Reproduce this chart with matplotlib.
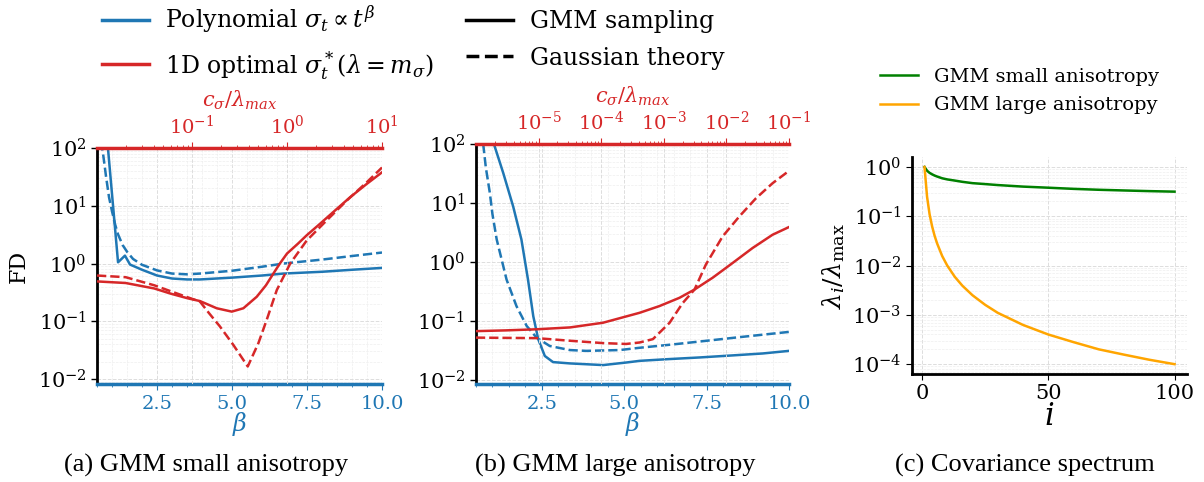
import matplotlib
matplotlib.use("Agg")
import matplotlib.pyplot as plt
from matplotlib.lines import Line2D
from matplotlib.ticker import MultipleLocator, LogLocator, NullFormatter

plt.rcParams['font.family'] = 'DejaVu Serif'
plt.rcParams['mathtext.fontset'] = 'dejavuserif'

BLUE = '#1f77b4'
RED = '#d62728'

# (a) small anisotropy -- polynomial schedule vs beta
beta_a_gmm = [0.85, 1.2, 1.43, 1.6, 2.0, 2.5, 3.0, 3.5, 3.93, 5.0, 6.0, 6.71, 8.0, 9.0, 10.0]
fd_a_poly_gmm = [120, 1.05, 1.37, 0.96, 0.78, 0.62, 0.55, 0.53, 0.53, 0.57, 0.62, 0.67, 0.72, 0.78, 0.84]
beta_a_th = [0.63, 0.7, 0.8, 0.9, 1.0, 1.1, 1.2, 1.35, 1.5, 1.7, 2.0, 2.5, 3.0, 3.5, 3.93, 5.0, 6.0, 6.71, 8.0, 9.0, 10.0]
fd_a_poly_th = [130, 80, 32, 14, 8, 4.8, 3.2, 2.1, 1.6, 1.2, 0.95, 0.76, 0.67, 0.65, 0.67, 0.75, 0.88, 1.0, 1.17, 1.35, 1.55]

# (a) 1D optimal schedule vs c_sigma / lambda_max
c_a_gmm = [0.01, 0.02, 0.04, 0.06, 0.09, 0.121, 0.182, 0.262, 0.347, 0.48, 0.6, 0.718, 0.84, 1.0,
           1.3, 1.61, 2.2, 3.07, 4.6, 6.9, 10]
fd_a_opt_gmm = [0.49, 0.46, 0.37, 0.30, 0.25, 0.224, 0.168, 0.147, 0.168, 0.266, 0.42, 0.67, 1.0, 1.49,
                2.2, 3.08, 4.8, 7.8, 14, 23.9, 38]
c_a_th = [0.01, 0.02, 0.04, 0.06, 0.09, 0.121, 0.15, 0.197, 0.272, 0.386, 0.5, 0.61, 0.78, 1.08,
          1.61, 2.62, 4.25, 6.9, 10]
fd_a_opt_th = [0.62, 0.58, 0.42, 0.33, 0.26, 0.22, 0.14, 0.081, 0.039, 0.0165, 0.042, 0.105, 0.347, 1.0,
               2.5, 5.6, 12.3, 25.5, 46]

# (b) large anisotropy -- polynomial schedule vs beta
beta_b_gmm = [1.045, 1.33, 1.63, 1.88, 2.08, 2.24, 2.39, 2.59, 2.84, 3.35, 4.36, 5.07, 5.47, 6.3, 7.3, 8.3, 9.2, 10.0]
fd_b_poly_gmm = [100, 32, 8.7, 2.4, 0.50, 0.12, 0.049, 0.0254, 0.020, 0.019, 0.0178, 0.0197, 0.021,
                 0.0224, 0.024, 0.026, 0.028, 0.031]
beta_b_th = [0.72, 0.8, 0.92, 1.0, 1.13, 1.43, 1.73, 2.04, 2.34, 2.74, 3.35, 3.85, 4.86, 5.47, 6.5, 7.5, 8.5, 10.0]
fd_b_poly_th = [100, 40, 15, 6.5, 2.4, 0.50, 0.178, 0.082, 0.052, 0.0375, 0.032, 0.031, 0.032, 0.035,
                0.040, 0.046, 0.053, 0.065]

# (b) 1D optimal schedule vs c_sigma / lambda_max
c_b_gmm = [1e-6, 3e-6, 9.3e-6, 3.2e-5, 1.07e-4, 4.1e-4, 8.5e-4, 1.78e-3, 3.1e-3, 6.05e-3, 1.26e-2,
           2.62e-2, 5.47e-2, 0.1]
fd_b_opt_gmm = [0.067, 0.069, 0.072, 0.0775, 0.093, 0.137, 0.178, 0.246, 0.34, 0.54, 0.96,
                1.72, 2.89, 3.9]
c_b_th = [1e-6, 9.3e-6, 3.2e-5, 1.07e-4, 2.5e-4, 4.1e-4, 6.7e-4, 1.24e-3, 2.0e-3, 3.1e-3, 4.7e-3,
          8.7e-3, 1.61e-2, 2.97e-2, 5.47e-2, 0.1]
fd_b_opt_th = [0.052, 0.051, 0.046, 0.042, 0.0406, 0.043, 0.049, 0.093, 0.20, 0.34, 0.90,
               2.7, 5.9, 12, 21.6, 35]

# (c) covariance spectra
idx = [1, 2, 3, 4, 5, 6, 8, 10, 13, 16, 20, 25, 30, 40, 50, 60, 70, 80, 90, 100]
eig_small = [1.0, 0.84, 0.76, 0.71, 0.67, 0.64, 0.59, 0.56, 0.53, 0.50, 0.47, 0.45, 0.43, 0.40, 0.38,
             0.36, 0.345, 0.334, 0.324, 0.316]
eig_large = [1.0, 0.25, 0.11, 0.0625, 0.04, 0.028, 0.0156, 0.01, 0.0059, 0.0039, 0.0025, 0.0016,
             0.0011, 0.000625, 0.0004, 0.00028, 0.0002, 0.000156, 0.000123, 0.0001]

LW = 1.8
GRID = dict(color='#dddddd', linestyle='--', linewidth=0.7)
GRID_MINOR = dict(color='#eeeeee', linestyle='--', linewidth=0.5)

fig = plt.figure(figsize=(12.04, 4.82), dpi=100)


def fd_panel(rect, ylim, ctop, cticks, b_gmm, y_gmm, b_th, y_th, c_gmm, o_gmm, c_th, o_th, ylabel):
    ax = fig.add_axes(rect)
    ax.set_yscale('log')
    ax.set_xlim(0.5, 10)
    ax.set_ylim(*ylim)
    ax.plot(b_gmm, y_gmm, color=BLUE, lw=LW)
    ax.plot(b_th, y_th, color=BLUE, lw=LW, ls='--')
    ax.set_xticks([2.5, 5.0, 7.5, 10.0])
    ax.xaxis.set_minor_locator(MultipleLocator(0.5))
    ax.yaxis.set_major_locator(LogLocator(base=10, numticks=10))
    ax.yaxis.set_minor_locator(LogLocator(base=10, subs=range(2, 10), numticks=10))
    ax.yaxis.set_minor_formatter(NullFormatter())
    ax.tick_params(axis='x', which='both', colors=BLUE, labelsize=14, pad=4)
    ax.tick_params(axis='x', which='major', length=4)
    ax.tick_params(axis='x', which='minor', length=2.5)
    ax.tick_params(axis='y', which='major', labelsize=15, length=4, width=1)
    ax.tick_params(axis='y', which='minor', length=0)
    ax.set_xlabel(r'$\beta$', color=BLUE, fontsize=17, labelpad=-2)
    if ylabel:
        ax.set_ylabel('FD', fontsize=16, labelpad=6)
    ax.grid(True, which='major', **GRID)
    ax.grid(True, which='minor', **GRID_MINOR)
    for s in ('top', 'right'):
        ax.spines[s].set_visible(False)
    ax.spines['bottom'].set_color(BLUE)
    ax.spines['bottom'].set_linewidth(2.5)
    ax.spines['left'].set_linewidth(2)

    axt = ax.twiny()
    axt.set_xscale('log')
    axt.set_xlim(*ctop)
    axt.plot(c_gmm, o_gmm, color=RED, lw=LW)
    axt.plot(c_th, o_th, color=RED, lw=LW, ls='--')
    axt.set_xticks(cticks)
    axt.tick_params(axis='x', which='both', colors=RED, labelsize=14, pad=3)
    axt.tick_params(axis='x', which='major', length=4)
    axt.tick_params(axis='x', which='minor', length=2)
    axt.set_xlabel(r'$c_\sigma/\lambda_{max}$', color=RED, fontsize=15, labelpad=6)
    axt.grid(True, which='major', axis='x', **GRID)
    for s in ('bottom', 'left', 'right'):
        axt.spines[s].set_visible(False)
    axt.spines['top'].set_color(RED)
    axt.spines['top'].set_linewidth(2.5)
    return ax, axt


fd_panel([0.0806, 0.2033, 0.2367, 0.4896], (0.0082, 100), (0.01, 10), [0.1, 1, 10],
         beta_a_gmm, fd_a_poly_gmm, beta_a_th, fd_a_poly_th,
         c_a_gmm, fd_a_opt_gmm, c_a_th, fd_a_opt_th, True)
fd_panel([0.3953, 0.2033, 0.26, 0.498], (0.0085, 100), (1e-6, 0.1), [1e-5, 1e-4, 1e-3, 1e-2, 1e-1],
         beta_b_gmm, fd_b_poly_gmm, beta_b_th, fd_b_poly_th,
         c_b_gmm, fd_b_opt_gmm, c_b_th, fd_b_opt_th, False)

# covariance spectrum panel
axc = fig.add_axes([0.7575, 0.224, 0.2284, 0.450])
axc.plot(idx, eig_small, color='green', lw=LW, label='GMM small anisotropy')
axc.plot(idx, eig_large, color='orange', lw=LW, label='GMM large anisotropy')
axc.set_yscale('log')
axc.set_xticks([0, 50, 100])
axc.yaxis.set_major_locator(LogLocator(base=10, numticks=10))
axc.yaxis.set_minor_locator(LogLocator(base=10, subs=range(2, 10), numticks=10))
axc.yaxis.set_minor_formatter(NullFormatter())
axc.tick_params(axis='both', which='major', labelsize=15, length=4)
axc.tick_params(axis='y', which='minor', length=0)
axc.set_xlabel(r'$i$', fontsize=22, labelpad=-2)
axc.set_ylabel(r'$\lambda_i/\lambda_{\rm max}$', fontsize=18, labelpad=4)
axc.grid(True, which='major', **GRID)
axc.grid(True, which='minor', **GRID_MINOR)
for s in ('top', 'right'):
    axc.spines[s].set_visible(False)
axc.spines['left'].set_linewidth(2)
axc.spines['bottom'].set_linewidth(2)
axc.legend(loc='upper left', bbox_to_anchor=(0.716, 0.896), bbox_transform=fig.transFigure,
           frameon=False, fontsize=14, handlelength=2.0, handletextpad=0.8, labelspacing=0.55)

# shared legend for the two FD panels
handles = [
    Line2D([], [], color=BLUE, lw=2.5),
    Line2D([], [], color=RED, lw=2.5),
    Line2D([], [], color='black', lw=2.5),
    Line2D([], [], color='black', lw=2.5, ls='--'),
]
labels = [
    r'Polynomial $\sigma_t \propto t^{\beta}$',
    r'1D optimal $\sigma_t^*(\lambda = m_\sigma)$',
    'GMM sampling',
    'Gaussian theory',
]
fig.legend(handles, labels, loc='upper left', bbox_to_anchor=(0.0667, 1.037), ncol=2,
           frameon=False, fontsize=17, handlelength=2.0, handletextpad=0.7,
           columnspacing=1.36, labelspacing=0.58)

cap = dict(fontsize=19, family='Liberation Serif', ha='center', va='center')
fig.text(0.171, 0.035, '(a) GMM small anisotropy', **cap)
fig.text(0.511, 0.035, '(b) GMM large anisotropy', **cap)
fig.text(0.851, 0.035, '(c) Covariance spectrum', **cap)

fig.savefig('out.png', dpi=100)
